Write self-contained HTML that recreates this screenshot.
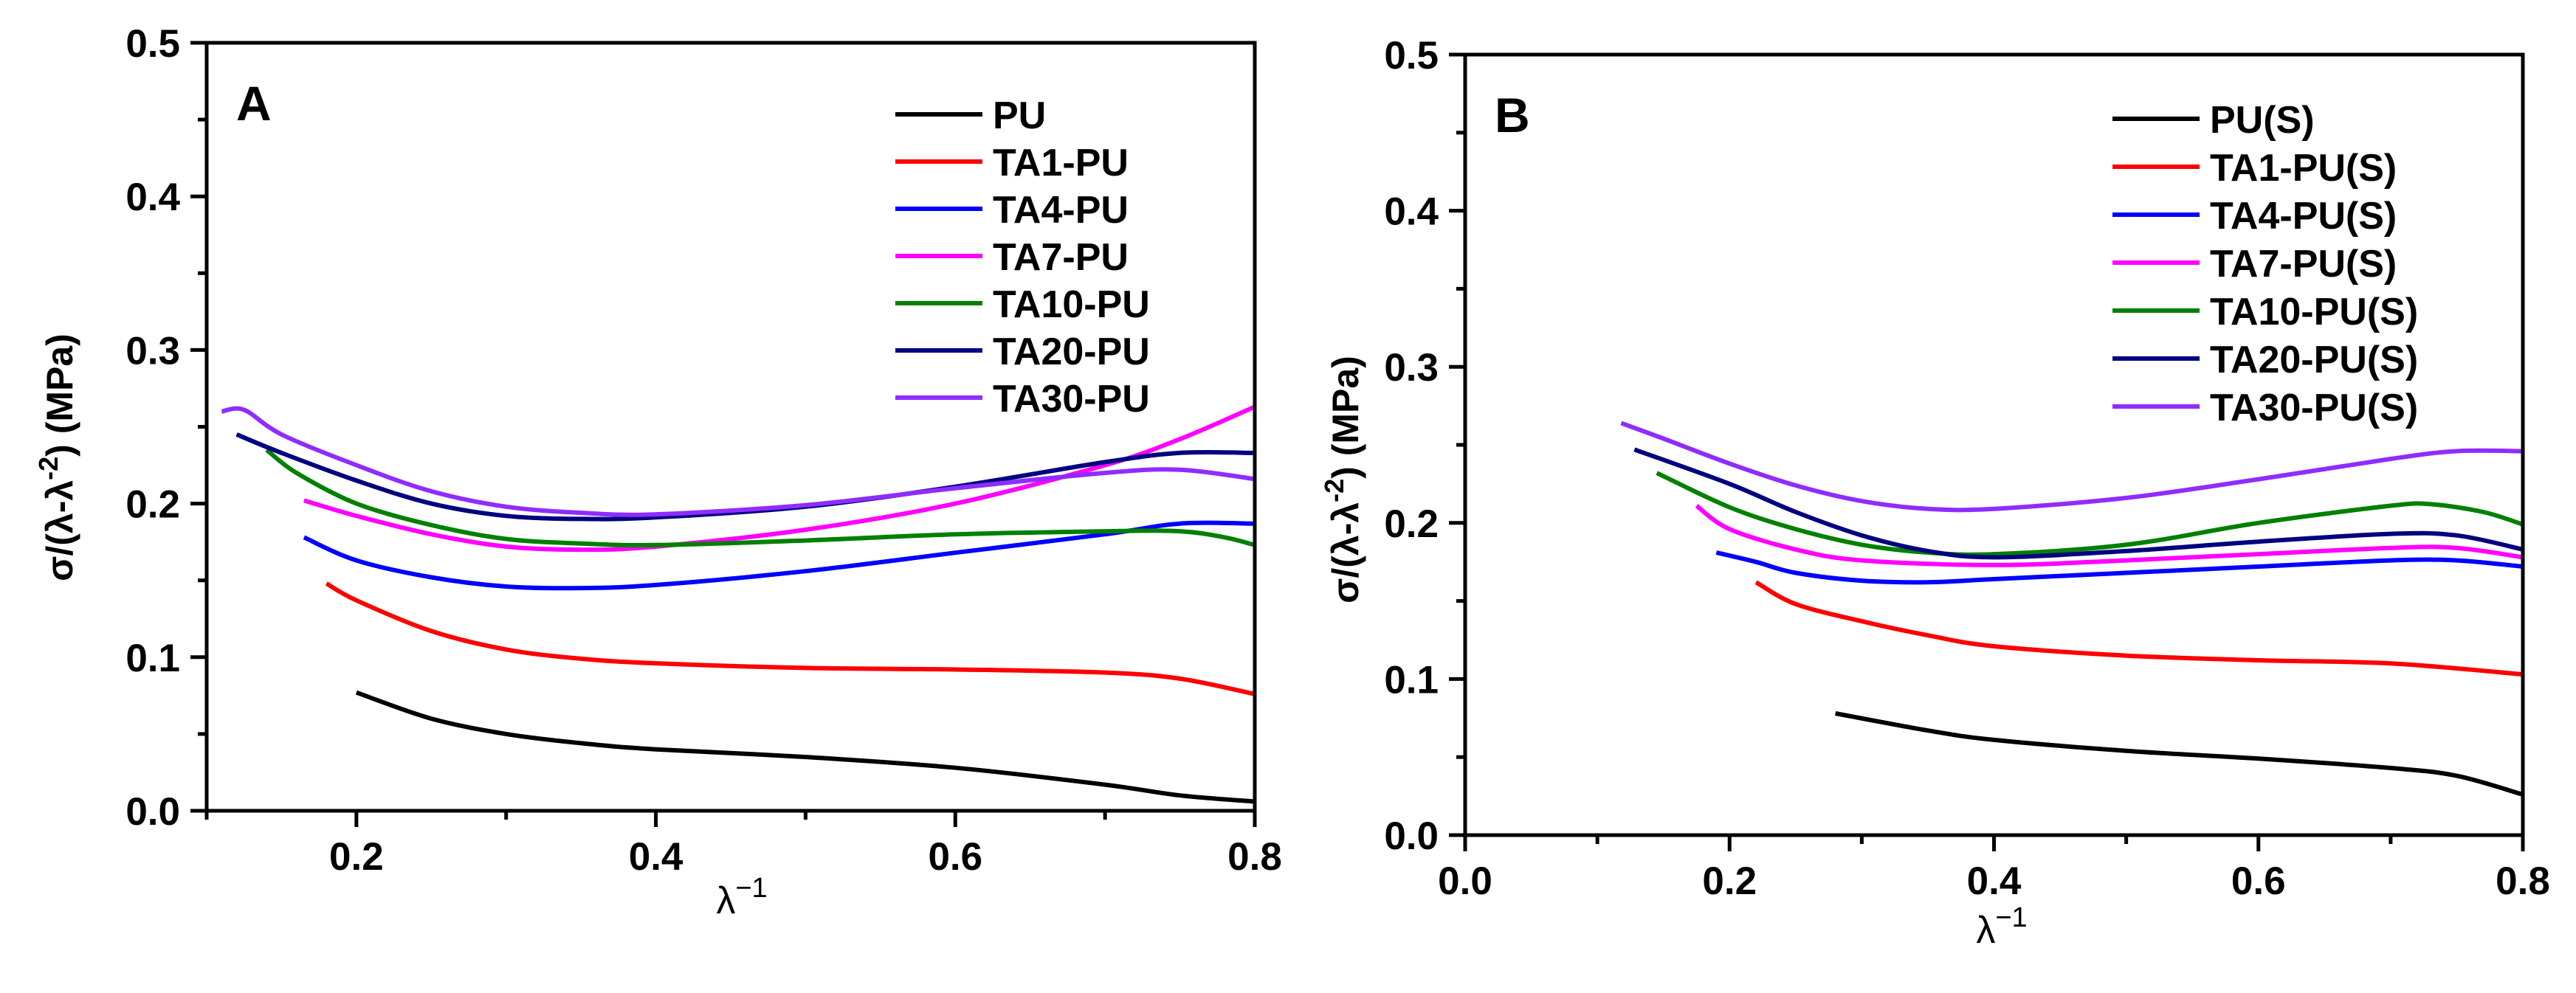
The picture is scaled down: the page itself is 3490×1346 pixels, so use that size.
<!DOCTYPE html>
<html><head><meta charset="utf-8">
<style>
html,body{margin:0;padding:0;background:#fff;}
svg{display:block;}
text{font-family:"Liberation Sans",Arial,sans-serif;}
</style></head>
<body>
<svg id="chart" width="3490" height="1346" viewBox="0 0 3490 1346" xmlns="http://www.w3.org/2000/svg"></svg>
<script>
// ---- Panel A data ----
const seriesNamesA = ["PU","TA1-PU","TA4-PU","TA7-PU","TA10-PU","TA20-PU","TA30-PU"];
const colors = ["#000000","#ff0000","#0000ff","#ff00ff","#008000","#000080","#8f2cff"];
const aPU_x = [0.2,0.25,0.3,0.35,0.4,0.5,0.6,0.7,0.75,0.8];
const aPU_y = [0.077,0.060,0.050,0.044,0.040,0.035,0.028,0.017,0.010,0.006];
const aTA1_x = [0.18,0.2,0.25,0.3,0.35,0.4,0.5,0.6,0.7,0.75,0.8];
const aTA1_y = [0.148,0.137,0.117,0.105,0.099,0.096,0.093,0.092,0.090,0.086,0.076];
const aTA4_x = [0.165,0.2,0.25,0.3,0.35,0.4,0.5,0.6,0.7,0.75,0.8];
const aTA4_y = [0.178,0.163,0.152,0.146,0.145,0.147,0.156,0.168,0.180,0.187,0.187];
const aTA7_x = [0.165,0.2,0.25,0.3,0.35,0.4,0.5,0.6,0.7,0.75,0.8];
const aTA7_y = [0.202,0.192,0.180,0.172,0.170,0.172,0.183,0.200,0.225,0.242,0.263];
const aTA10_x = [0.14,0.16,0.2,0.25,0.3,0.35,0.4,0.5,0.6,0.7,0.75,0.78,0.8];
const aTA10_y = [0.235,0.220,0.200,0.186,0.177,0.174,0.173,0.176,0.180,0.182,0.182,0.178,0.173];
const aTA20_x = [0.12,0.15,0.2,0.25,0.3,0.35,0.4,0.5,0.6,0.7,0.75,0.8];
const aTA20_y = [0.245,0.233,0.215,0.200,0.192,0.190,0.191,0.198,0.211,0.227,0.233,0.233];
const aTA30_x = [0.11,0.125,0.15,0.2,0.25,0.3,0.35,0.4,0.5,0.6,0.7,0.75,0.8];
const aTA30_y = [0.260,0.261,0.245,0.225,0.208,0.198,0.194,0.193,0.199,0.210,0.220,0.222,0.216];
// ---- Panel B data ----
const seriesNamesB = ["PU(S)","TA1-PU(S)","TA4-PU(S)","TA7-PU(S)","TA10-PU(S)","TA20-PU(S)","TA30-PU(S)"];
const bPU_x = [0.28,0.35,0.4,0.5,0.6,0.7,0.75,0.8];
const bPU_y = [0.078,0.067,0.061,0.054,0.049,0.043,0.038,0.026];
const bTA1_x = [0.22,0.25,0.3,0.35,0.4,0.5,0.6,0.7,0.8];
const bTA1_y = [0.162,0.148,0.137,0.128,0.121,0.115,0.112,0.110,0.103];
const bTA4_x = [0.19,0.22,0.25,0.3,0.35,0.4,0.5,0.6,0.7,0.75,0.8];
const bTA4_y = [0.181,0.175,0.168,0.163,0.162,0.164,0.168,0.172,0.176,0.176,0.172];
const bTA7_x = [0.175,0.2,0.25,0.3,0.4,0.5,0.6,0.7,0.75,0.8];
const bTA7_y = [0.211,0.196,0.183,0.176,0.173,0.176,0.180,0.184,0.184,0.178];
const bTA10_x = [0.145,0.2,0.25,0.3,0.35,0.4,0.5,0.6,0.7,0.73,0.77,0.8];
const bTA10_y = [0.232,0.210,0.196,0.186,0.181,0.180,0.186,0.200,0.211,0.212,0.207,0.199];
const bTA20_x = [0.128,0.2,0.25,0.3,0.35,0.4,0.5,0.6,0.7,0.75,0.8];
const bTA20_y = [0.247,0.225,0.207,0.192,0.182,0.178,0.182,0.188,0.193,0.192,0.183];
const bTA30_x = [0.118,0.15,0.2,0.25,0.3,0.35,0.4,0.5,0.6,0.7,0.75,0.8];
const bTA30_y = [0.264,0.254,0.238,0.224,0.214,0.209,0.209,0.216,0.228,0.241,0.246,0.246];
// tick labels
const yTickLabels = ["0.0","0.1","0.2","0.3","0.4","0.5"];
const xTickLabelsA = ["0.2","0.4","0.6","0.8"];
const xTickLabelsB = ["0.0","0.2","0.4","0.6","0.8"];

const NS = "http://www.w3.org/2000/svg";
const svg = document.getElementById("chart");
function mk(tag, attrs, parent, txt){
  const e = document.createElementNS(NS, tag);
  for (const k in attrs) e.setAttribute(k, attrs[k]);
  if (txt !== undefined) e.textContent = txt;
  (parent||svg).appendChild(e);
  return e;
}
function smoothPath(pts){
  let d = "M"+pts[0][0].toFixed(1)+","+pts[0][1].toFixed(1);
  for (let i=0;i<pts.length-1;i++){
    const p0=pts[Math.max(0,i-1)], p1=pts[i], p2=pts[i+1], p3=pts[Math.min(pts.length-1,i+2)];
    const c1=[p1[0]+(p2[0]-p0[0])/6, p1[1]+(p2[1]-p0[1])/6];
    const c2=[p2[0]-(p3[0]-p1[0])/6, p2[1]-(p3[1]-p1[1])/6];
    d+=" C"+c1[0].toFixed(1)+","+c1[1].toFixed(1)+" "+c2[0].toFixed(1)+","+c2[1].toFixed(1)+" "+p2[0].toFixed(1)+","+p2[1].toFixed(1);
  }
  return d;
}

function panel(cfg){
  const g = mk("g", {});
  
  
  const X = v => cfg.x0 + (v-cfg.xmin)/(cfg.xmax-cfg.xmin)*(cfg.x1-cfg.x0);
  const Y = v => cfg.y0 - v/0.5*(cfg.y0-cfg.y1);
  cfg.series.forEach((s,i)=>{
    const pts = s.x.map((xv,j)=>[X(xv),Y(s.y[j])]);
    const p = mk("path",{d:smoothPath(pts),fill:"none",stroke:colors[i],"stroke-width":6,"stroke-linejoin":"round"},g);
    
    
  });
  const fr = mk("rect",{x:cfg.x0,y:cfg.y1,width:cfg.x1-cfg.x0,height:cfg.y0-cfg.y1,fill:"none",stroke:"#000","stroke-width":5},g);
  
  
  for (let k=0;k<=10;k++){
    const v=k*0.05, y=Y(v), major=(k%2===0);
    const t = mk("line",{x1:cfg.x0,x2:cfg.x0-(major?22:12),y1:y,y2:y,stroke:"#000","stroke-width":5},g);
    
    
  }
  yTickLabels.forEach((lab,k)=>{
    const t = mk("text",{x:cfg.x0-36,y:Y(k*0.1)+19,"text-anchor":"end","font-size":53,"font-weight":"bold"},g,lab);
    
    
  });
  for (let v=Math.ceil(cfg.xmin*10-1e-6); v<=Math.round(cfg.xmax*10); v++){
    const xv=v/10, x=X(xv), major=(v%2===0);
    const t = mk("line",{x1:x,x2:x,y1:cfg.y0,y2:cfg.y0+(major?22:12),stroke:"#000","stroke-width":5},g);
    
    
  }
  cfg.xLabels.forEach(lab=>{
    const t = mk("text",{x:X(parseFloat(lab)),y:cfg.y0+80,"text-anchor":"middle","font-size":53,"font-weight":"bold"},g,lab);
    
    
  });
  const yt = mk("text",{transform:"translate("+cfg.ytx+","+cfg.yty+") rotate(-90)","text-anchor":"middle","font-size":50,"font-weight":"bold"},g);
  
  
  mk("tspan",{},yt,"σ/(λ-λ");
  mk("tspan",{dy:-20,"font-size":36},yt,"-2");
  mk("tspan",{dy:20},yt,") (MPa)");
  const xt = mk("text",{x:cfg.xtx,y:cfg.xty,"text-anchor":"middle","font-size":52},g);
  
  
  mk("tspan",{},xt,"λ");
  mk("tspan",{dy:-22,"font-size":38},xt,"−1");
  const pl = mk("text",{x:cfg.x0+40,y:cfg.y1+105,"font-size":66,"font-weight":"bold"},g,cfg.letter);
  
  
  cfg.labels.forEach((lab,i)=>{
    const y = cfg.legY + i*cfg.legDy;
    const le = mk("g",{},g);
    
    
    mk("line",{x1:cfg.legX,x2:cfg.legX+118,y1:y,y2:y,stroke:colors[i],"stroke-width":6},le);
    mk("text",{x:cfg.legX+132,y:y+19,"font-size":52,"font-weight":"bold"},le,lab);
  });
}

panel({name:"panel-a",letter:"A",x0:280,x1:1700,y0:1099,y1:58,xmin:0.1,xmax:0.8,
  xLabels:xTickLabelsA,labels:seriesNamesA,legX:1213,legY:155,legDy:64,
  ytx:98,yty:620,xtx:1005,xty:1238,
  series:[{x:aPU_x,y:aPU_y},{x:aTA1_x,y:aTA1_y},{x:aTA4_x,y:aTA4_y},{x:aTA7_x,y:aTA7_y},
          {x:aTA10_x,y:aTA10_y},{x:aTA20_x,y:aTA20_y},{x:aTA30_x,y:aTA30_y}]});
panel({name:"panel-b",letter:"B",x0:1985,x1:3418,y0:1132,y1:74,xmin:0.0,xmax:0.8,
  xLabels:xTickLabelsB,labels:seriesNamesB,legX:2862,legY:161,legDy:65,
  ytx:1840,yty:650,xtx:2712,xty:1278,
  series:[{x:bPU_x,y:bPU_y},{x:bTA1_x,y:bTA1_y},{x:bTA4_x,y:bTA4_y},{x:bTA7_x,y:bTA7_y},
          {x:bTA10_x,y:bTA10_y},{x:bTA20_x,y:bTA20_y},{x:bTA30_x,y:bTA30_y}]});
</script>
</body></html>
